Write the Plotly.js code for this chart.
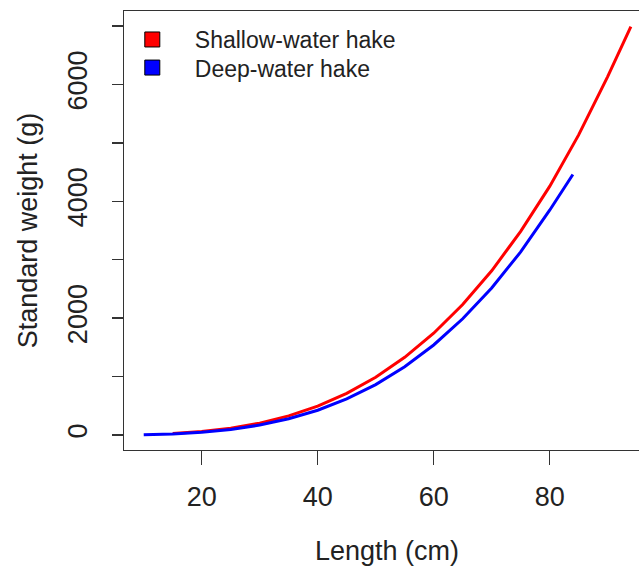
<!DOCTYPE html>
<html>
<head>
<meta charset="utf-8">
<script src="https://cdn.plot.ly/plotly-3.0.1.min.js"></script>
<style>
html,body{margin:0;padding:0;overflow:hidden;background:#fff;}
#chart{width:660px;height:569px;}
</style>
</head>
<body>
<div id="chart"></div>
<script>
// Shallow-water hake (red)
const shallowLength = [15, 20, 25, 30, 35, 40, 45, 50, 55, 60, 65, 70, 75, 80, 85, 90, 94];
const shallowWeight = [24, 58, 115, 203, 327, 495, 713, 989, 1330, 1742, 2233, 2811, 3485, 4256, 5137, 6135, 6990];
// Deep-water hake (blue)
const deepLength = [10, 15, 20, 25, 30, 35, 40, 45, 50, 55, 60, 65, 70, 75, 80, 84];
const deepWeight = [5, 19, 47, 95, 170, 278, 424, 617, 863, 1169, 1541, 1989, 2517, 3134, 3848, 4460];

const seriesNames = ["Shallow-water hake", "Deep-water hake"];
const seriesColors = ["#ff0000", "#0000ff"];

const xTickVals = [20, 40, 60, 80];
const xTickText = ["20", "40", "60", "80"];
const yTickVals = [0, 1000, 2000, 3000, 4000, 5000, 6000, 7000];
const yTickText = ["0", "", "2000", "", "4000", "", "6000", ""];

const FONT = "Liberation Sans, Arial, Helvetica, sans-serif";
const INK = "#222222";
const AXIS = "#333333";

const traces = [
  {x: shallowLength, y: shallowWeight, mode: "lines", line: {color: seriesColors[0], width: 3}, showlegend: false, name: seriesNames[0]},
  {x: deepLength, y: deepWeight, mode: "lines", line: {color: seriesColors[1], width: 3}, showlegend: false, name: seriesNames[1]},
  {x: [null], y: [null], mode: "markers", name: seriesNames[0], legend: "legend",
   marker: {symbol: "square", size: 15, color: seriesColors[0], line: {color: "#000", width: 1}}},
  {x: [null], y: [null], mode: "markers", name: seriesNames[1], legend: "legend2",
   marker: {symbol: "square", size: 15, color: seriesColors[1], line: {color: "#000", width: 1}}}
];

const legendBase = {
  xanchor: "left", yanchor: "top",
  bgcolor: "rgba(0,0,0,0)", borderwidth: 0,
  font: {family: FONT, size: 23, color: INK},
  itemwidth: 75
};

const layout = {
  width: 660, height: 569,
  margin: {l: 124, r: 10, t: 11, b: 119, pad: 0},
  paper_bgcolor: "#fff", plot_bgcolor: "#fff",
  font: {family: FONT, color: INK, size: 27},
  showlegend: true,
  legend: Object.assign({x: -0.027, y: 0.984}, legendBase),
  legend2: Object.assign({x: -0.027, y: 0.920}, legendBase),
  xaxis: {
    range: [6.6, 97.3],
    tickvals: xTickVals, ticktext: xTickText,
    ticks: "outside", ticklen: 14, tickwidth: 1.3, tickcolor: AXIS,
    showline: true, mirror: true, linecolor: AXIS, linewidth: 1.3,
    showgrid: false, zeroline: false,
    tickfont: {family: FONT, size: 27, color: INK},
    ticklabelstandoff: 8,
    title: {text: "Length (cm)", font: {family: FONT, size: 27, color: INK}, standoff: 30}
  },
  yaxis: {
    range: [-257, 7258],
    tickvals: yTickVals, ticktext: yTickText,
    ticks: "outside", ticklen: 11, tickwidth: 1.3, tickcolor: AXIS,
    showline: true, mirror: true, linecolor: AXIS, linewidth: 1.3,
    showgrid: false, zeroline: false,
    tickangle: -90,
    tickfont: {family: FONT, size: 27, color: INK},
    ticklabelstandoff: 14,
    title: {text: "Standard weight (g)", font: {family: FONT, size: 27, color: INK}, standoff: 17}
  }
};

Plotly.newPlot("chart", traces, layout, {displayModeBar: false, staticPlot: true});
</script>
</body>
</html>
